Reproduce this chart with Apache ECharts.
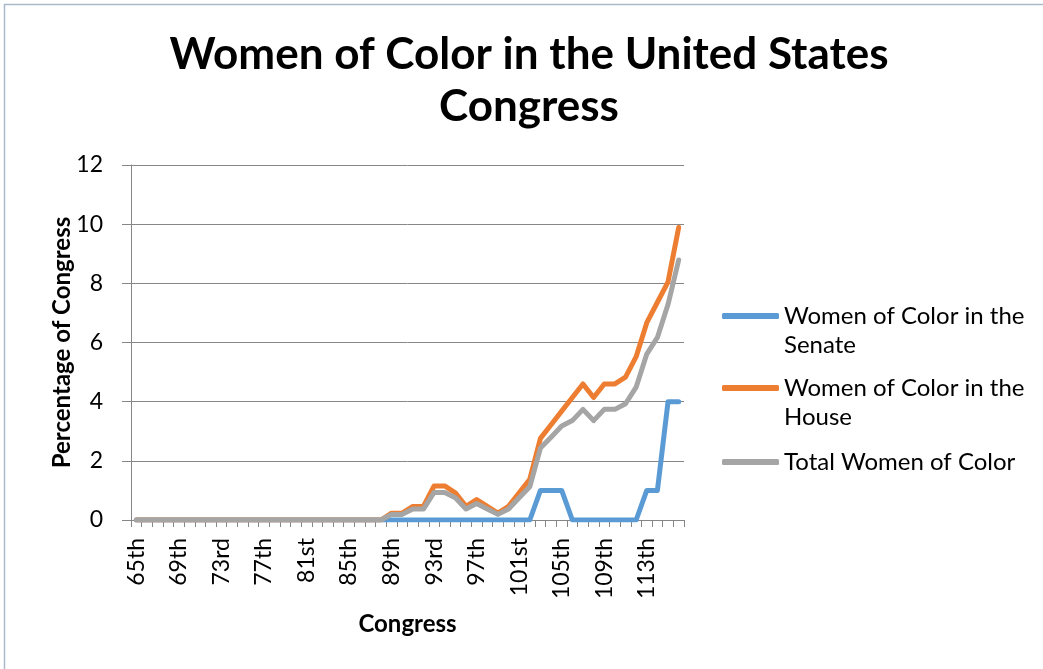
<!DOCTYPE html>
<html>
<head>
<meta charset="utf-8">
<style>html,body{margin:0;padding:0;background:#fff;}#chart{width:1043px;height:669px;}</style>
<script src="https://cdn.jsdelivr.net/npm/echarts@6/dist/echarts.min.js"></script>
</head>
<body>
<div id="chart"></div>
<script>
const congresses = ["65th","66th","67th","68th","69th","70th","71st","72nd","73rd","74th","75th","76th","77th","78th","79th","80th","81st","82nd","83rd","84th","85th","86th","87th","88th","89th","90th","91st","92nd","93rd","94th","95th","96th","97th","98th","99th","100th","101st","102nd","103rd","104th","105th","106th","107th","108th","109th","110th","111th","112th","113th","114th","115th","116th"];

const senateValues = [0,0,0,0,0,0,0,0,0,0,0,0,0,0,0,0,0,0,0,0,0,0,0,0,
  0,0,0,0,0,0,0,0,0,0,0,0,0,0,
  1,1,1,0,0,0,0,0,0,0,1,1,4,4];

const houseValues = [0,0,0,0,0,0,0,0,0,0,0,0,0,0,0,0,0,0,0,0,0,0,0,0,
  0.23,0.23,0.46,0.46,1.15,1.15,0.92,0.46,0.69,0.46,0.23,0.46,0.92,1.38,
  2.76,3.22,3.68,4.14,4.60,4.14,4.60,4.60,4.83,5.52,6.67,7.36,8.05,9.89];

const totalValues = [0,0,0,0,0,0,0,0,0,0,0,0,0,0,0,0,0,0,0,0,0,0,0,0,
  0.19,0.19,0.37,0.37,0.93,0.93,0.75,0.37,0.56,0.37,0.19,0.37,0.75,1.12,
  2.43,2.80,3.18,3.36,3.74,3.36,3.74,3.74,3.93,4.49,5.61,6.17,7.29,8.79];

const yTicks = { min: 0, max: 12, interval: 2 };

const seriesNames = ["Women of Color in the Senate", "Women of Color in the House", "Total Women of Color"];
const legendLabels = ["\nWomen of Color in the\nSenate", "\nWomen of Color in the\nHouse", "Total Women of Color"];
const colors = ["#5B9BD5", "#ED7D31", "#A5A5A5"];

const chart = echarts.init(document.getElementById('chart'), null, { renderer: 'canvas' });

const lineSeries = (name, data, color, z) => ({
  name: name,
  type: 'line',
  data: data,
  symbol: 'none',
  smooth: false,
  z: z,
  color: color,
  lineStyle: { width: 5, color: color, cap: 'round', join: 'round' },
  emphasis: { disabled: true }
});

const legendBase = (idx, top) => ({
  orient: 'vertical',
  left: 717,
  top: top,
  icon: 'roundRect',
  itemWidth: 57,
  itemHeight: 6,
  data: [seriesNames[idx]],
  formatter: () => legendLabels[idx],
  textStyle: {
    fontFamily: 'Lato',
    fontSize: 24,
    color: '#000',
    lineHeight: 29
  }
});

chart.setOption({
  animation: false,
  backgroundColor: '#fff',
  graphic: [{
    type: 'rect',
    shape: { x: 4.5, y: 4.5, width: 1080, height: 720 },
    style: { fill: 'none', stroke: '#A9BACB', lineWidth: 1.5 },
    silent: true,
    z: -10
  }],
  title: {
    text: 'Women of Color in the United States\nCongress',
    left: 524,
    textAlign: 'center',
    top: 24,
    textStyle: {
      fontFamily: 'Lato',
      fontWeight: 'bold',
      fontSize: 44,
      lineHeight: 52,
      color: '#000'
    }
  },
  legend: [
    legendBase(0, 267.5),
    legendBase(1, 339.5),
    legendBase(2, 442.5)
  ],
  grid: { left: 131, right: 359, top: 165, bottom: 149, containLabel: false },
  xAxis: {
    type: 'category',
    data: congresses,
    boundaryGap: true,
    name: 'Congress',
    nameLocation: 'middle',
    nameGap: 92,
    nameMoveOverlap: false,
    nameTextStyle: { fontFamily: 'Lato', fontWeight: 'bold', fontSize: 24, color: '#000' },
    axisLine: { show: true, lineStyle: { color: '#868686', width: 1 } },
    axisTick: { show: true, interval: 0, length: 7, lineStyle: { color: '#868686' } },
    axisLabel: { interval: 3, rotate: 90, margin: 18, fontFamily: 'Lato', fontSize: 23, color: '#000' },
    splitLine: { show: false }
  },
  yAxis: {
    type: 'value',
    min: yTicks.min,
    max: yTicks.max,
    interval: yTicks.interval,
    name: 'Percentage of Congress',
    nameLocation: 'middle',
    nameGap: 57,
    nameMoveOverlap: false,
    nameTextStyle: { fontFamily: 'Lato', fontWeight: 'bold', fontSize: 24, color: '#000' },
    axisLine: { show: true, lineStyle: { color: '#868686', width: 1 } },
    axisTick: { show: true, inside: false, length: 9, lineStyle: { color: '#868686' } },
    axisLabel: { margin: 28, fontFamily: 'Lato', fontSize: 23, color: '#000' },
    splitLine: { show: true, lineStyle: { color: '#878787', width: 1 } }
  },
  series: [
    lineSeries(seriesNames[0], senateValues, colors[0], 2),
    lineSeries(seriesNames[1], houseValues, colors[1], 3),
    lineSeries(seriesNames[2], totalValues, colors[2], 4)
  ]
});
</script>
</body>
</html>
